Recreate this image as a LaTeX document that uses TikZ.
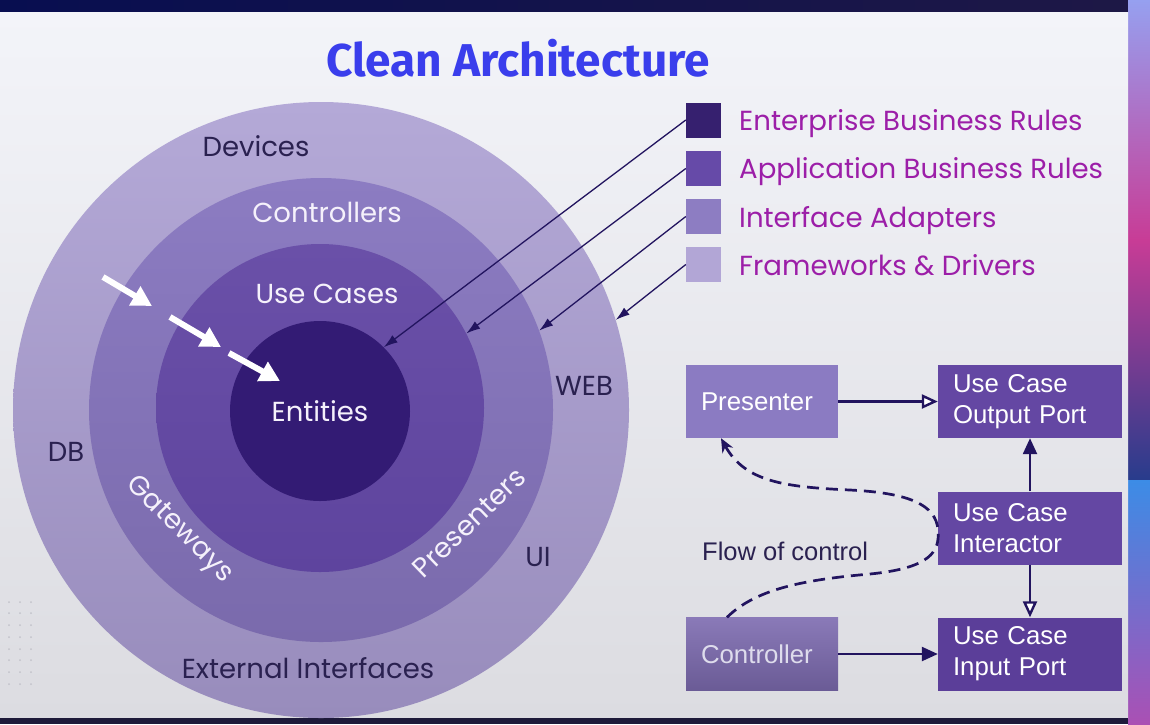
\documentclass[tikz,border=0pt]{standalone}
\usepackage{fontspec}
\setmainfont{Liberation Sans}
\newfontfamily\popfont{Poppins}
\newfontfamily\titlefont{Fira Sans}
\usetikzlibrary{arrows.meta,calc}
\definecolor{navy}{HTML}{22145F}
\definecolor{labdark}{HTML}{2A2150}
\definecolor{lablight}{HTML}{F5F1FB}
\definecolor{legtext}{HTML}{9C1EA8}
\definecolor{titleblue}{HTML}{3A3EEC}
\definecolor{sqA}{HTML}{36206F}
\definecolor{sqB}{HTML}{664AA8}
\definecolor{sqC}{HTML}{8D7DC2}
\definecolor{sqD}{HTML}{B2A6D6}
\definecolor{boxlight}{HTML}{8B7BC2}
\definecolor{boxdark}{HTML}{6447A3}
\definecolor{boxin}{HTML}{5B3E99}
\definecolor{boxctl}{HTML}{7D6BB0}
\definecolor{bgdark}{HTML}{1A1440}
\definecolor{bandbot}{HTML}{1E1A3A}
\definecolor{dotgray}{HTML}{C2C2CA}
\tikzset{
  ring/.style={circle, inner sep=0pt, draw=none},
  lsq/.style={rectangle, minimum size=35pt, inner sep=0pt},
  legtxt/.style={anchor=base west, inner sep=0pt, text=legtext, font=\popfont\fontsize{27.6}{32}\selectfont},
  legarrow/.style={draw=navy, line width=1.3pt, -{Latex[length=14pt,width=9pt]}},
  darklab/.style={text=labdark, inner sep=0pt, font=\popfont\fontsize{27.5}{32}\selectfont},
  lightlab/.style={text=lablight, inner sep=0pt, font=\popfont\fontsize{27.5}{32}\selectfont},
  whitearrow/.style={draw=white, line width=6pt, -{Triangle[length=20pt,width=21pt]}},
  cabox/.style={rectangle, inner xsep=15pt, inner ysep=0pt, align=left, text=white,
     font=\fontsize{25.8}{31}\selectfont, minimum height=73pt},
  narrowbox/.style={cabox, text width=122pt},
  widebox/.style={cabox, text width=154pt},
  conn/.style={draw=navy, line width=2.4pt},
  openhead/.style={conn, -{Triangle[open, length=16pt, width=14pt, fill=white]}},
  fullhead/.style={conn, -{Triangle[length=16pt, width=14pt]}},
  flowline/.style={draw=navy, line width=2.7pt, dash pattern=on 12pt off 7pt, -{Stealth[length=14pt,width=12pt]}},
}
\begin{document}
\begin{tikzpicture}[x=1pt,y=-1pt]
\useasboundingbox (0,0) rectangle (1150,724);
% ---------- background ----------
\fill[bgdark] (0,0) rectangle (1150,724);
\shade[left color={rgb,255:red,8;green,14;blue,80}, right color={rgb,255:red,30;green,24;blue,70}] (0,0) rectangle (1150,12);
\shade[top color={rgb,255:red,150;green,160;blue,240}, bottom color={rgb,255:red,200;green,60;blue,150}] (1128,0) rectangle (1150,240);
\shade[top color={rgb,255:red,200;green,60;blue,150}, bottom color={rgb,255:red,40;green,60;blue,140}] (1128,240) rectangle (1150,480);
\shade[top color={rgb,255:red,60;green,140;blue,230}, bottom color={rgb,255:red,170;green,80;blue,180}] (1128,480) rectangle (1150,724);
\shade[top color={rgb,255:red,243;green,244;blue,249}, bottom color={rgb,255:red,220;green,220;blue,225}] (0,12) rectangle (1128,718);
\fill[bandbot] (0,718) rectangle (1128,724);
\foreach \yy in {602,613,625,637,649,660,672,684}{
  \foreach \xx in {9,20,31}{
    \fill[dotgray] (\xx,\yy) circle[radius=1pt];
  }
}
% ---------- title ----------
\node[text=titleblue, font=\titlefont\bfseries\fontsize{46}{52}\selectfont, inner sep=0pt] (title) at (518,58) {Clean Architecture};
% ---------- rings ----------
\node[ring, minimum size=616pt, top color={rgb,255:red,180;green,169;blue,215}, bottom color={rgb,255:red,152;green,140;blue,188}] (fd) at (321,410) {};
\node[ring, minimum size=464pt, top color={rgb,255:red,140;green,124;blue,194}, bottom color={rgb,255:red,122;green,106;blue,172}] (ia) at (321,410) {};
\node[ring, minimum size=328pt, top color={rgb,255:red,106;green,80;blue,168}, bottom color={rgb,255:red,94;green,68;blue,158}] (uc) at (320,408) {};
\node[ring, minimum size=180pt, fill={rgb,255:red,51;green,27;blue,116}] (ent) at (320,411) {};
% ring labels
\node[darklab] (devices) at (256,146) {Devices};
\node[lightlab] (controllers) at (327,212) {Controllers};
\node[lightlab] (usecases) at (327,294) {Use Cases};
\node[lightlab] (entities) at (320,411) {Entities};
\node[darklab] (web) at (584,386) {WEB};
\node[darklab] (db) at (66,452) {DB};
\node[darklab] (ui) at (538,557) {UI};
\node[darklab] (ext) at (308,668) {External Interfaces};
\node[lightlab, rotate=-45] (gateways) at (179,530) {Gateways};
\node[lightlab, rotate=44] (presenters) at (469,523) {Presenters};
% white arrows
\coordinate (wa1) at (103,277); \coordinate (wb1) at (152,306);
\coordinate (wa2) at (170,317); \coordinate (wb2) at (221,347);
\coordinate (wa3) at (229,353); \coordinate (wb3) at (280,381);
\draw[whitearrow] (wa1) -- (wb1);
\draw[whitearrow] (wa2) -- (wb2);
\draw[whitearrow] (wa3) -- (wb3);
% ---------- legend ----------
\node[lsq, fill=sqA] (s1) at (703.5,120) {};
\node[lsq, fill=sqB] (s2) at (703.5,168.5) {};
\node[lsq, fill=sqC] (s3) at (703.5,216.5) {};
\node[lsq, fill=sqD] (s4) at (703.5,264.5) {};
\node[legtxt] (t1) at (739,130) {Enterprise Business Rules};
\node[legtxt] (t2) at (739,178) {Application Business Rules};
\node[legtxt] (t3) at (739,227) {Interface Adapters};
\node[legtxt] (t4) at (739,275) {Frameworks \& Drivers};
\draw[legarrow] (s1.west) -- (ent.45);
\draw[legarrow] (s2.west) -- (uc.27);
\draw[legarrow] (s3.west) -- (ia.20);
\draw[legarrow] (s4.west) -- (fd.17);
% ---------- boxes ----------
\node[narrowbox, fill=boxlight] (pres) at (762,401.5) {Presenter};
\node[widebox, fill=boxdark] (outp) at (1030,401.5) {Use Case\\Output Port};
\node[widebox, fill=boxdark] (inter) at (1030,528) {Use Case\\Interactor};
\node[narrowbox, top color=boxctl!90!white, bottom color=boxctl!85!black, text={rgb,255:red,222;green,220;blue,236}] (ctrl) at (762,654) {Controller};
\node[widebox, fill=boxin] (inp) at (1030,654) {Use Case\\Input Port};
\draw[openhead] (pres.east) -- (outp.west);
\draw[fullhead] (inter.north) -- (outp.south);
\draw[openhead] (inter.south) -- (inp.north);
\draw[fullhead] (ctrl.east) -- (inp.west);
\draw[flowline] ([xshift=-35pt]ctrl.north)
  .. controls (755,590) and (800,580) .. (870,574)
  .. controls (930,568) and (940,552) .. (938,530)
  .. controls (936,505) and (910,493) .. (850,490)
  .. controls (785,487) and (745,482) .. ([xshift=-41pt]pres.south);
\node[text=labdark, font=\fontsize{25.5}{30}\selectfont, anchor=west, inner sep=0pt] (flow) at (702,551) {Flow of control};
\end{tikzpicture}
\end{document}
